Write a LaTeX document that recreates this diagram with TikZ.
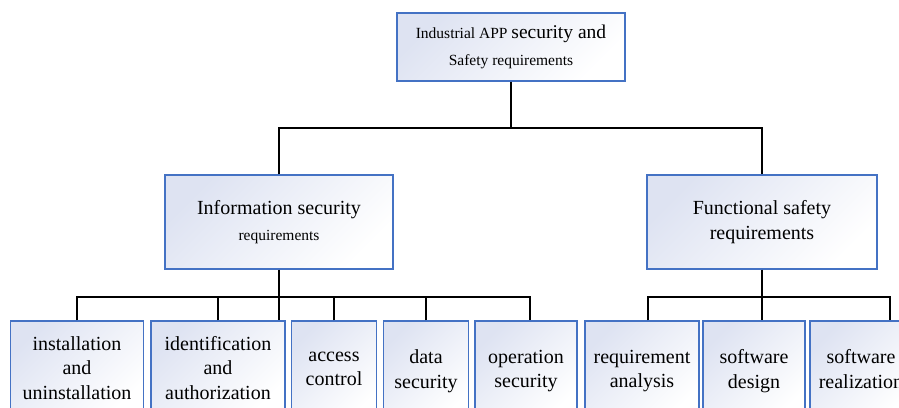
\documentclass[tikz,border=0pt]{standalone}
\usepackage{fontspec}
\setmainfont{Liberation Serif}
\usepackage{tikz}
\usetikzlibrary{positioning}
\definecolor{boxline}{RGB}{68,114,196}
\definecolor{boxtint}{RGB}{222,227,242}
\newcommand{\boxtxt}{\fontsize{20}{24.5}\selectfont}
\newcommand{\smalltxt}{\fontsize{15.5}{18}\selectfont}

\begin{document}
\begin{tikzpicture}[x=1pt, y=-1pt,
        box/.style={draw=boxline, line width=1.2pt, top color=boxtint, bottom color=white,
                    shading angle=45, align=center, font=\boxtxt, inner sep=1pt},
        leaf/.style={box, minimum height=98, text depth=2pt},
        link/.style={draw=black, line width=1.5pt}]
        \useasboundingbox (0,0) rectangle (899,407);
        \clip (0,0) rectangle (899,407);

        % Nivel superior
        \node[box, minimum width=228, minimum height=68] (top) at (511,47)
            {\smalltxt Industrial APP {\fontsize{19.5}{27}\selectfont security and}\\[3pt] \smalltxt Safety requirements};

        % Segundo nivel
        \node[box, minimum width=228, minimum height=94] (info) at (279,222)
            {Information security\\[2pt] \smalltxt requirements};
        \node[box, minimum width=230, minimum height=94] (func) at (762,222)
            {Functional safety\\ requirements};

        % Tercer nivel (informacion)
        \node[box, minimum width=133, minimum height=94] (inst) at (77,368) {installation\\ and\\ uninstallation};
        \node[box, minimum width=134, minimum height=94] (ident) at (218,368) {identification\\ and\\ authorization};
        \node[leaf, minimum width=85] (access) at (334,370) {access\\ control};
        \node[leaf, minimum width=85] (data) at (426,370) {data\\ security};
        \node[leaf, minimum width=102] (oper) at (526,370) {operation\\ security};

        % Tercer nivel (funcional)
        \node[leaf, minimum width=114] (reqan) at (642,370) {requirement\\ analysis};
        \node[leaf, minimum width=102] (design) at (754,370) {software\\ design};
        \node[leaf, minimum width=102] (realiz) at (861,370) {software\\ realization};

        % Barras horizontales
        \coordinate (barT) at (511,128);
        \coordinate (barL) at (279,297);
        \coordinate (barR) at (762,297);

        % Conexiones
        \draw[link] (top.south) -- (barT);
        \draw[link] (info.north) |- (barT) -| (func.north);
        \draw[link] (info.south) -- (info.south |- ident.north);
        \draw[link] (inst.north) |- (barL) -| ([xshift=4pt]oper.north);
        \foreach \n in {ident, access, data}
            \draw[link] (\n.north) -- (\n.north |- barL);
        \draw[link] (func.south) -- (func.south |- design.north);
        \draw[link] ([xshift=6pt]reqan.north) |- (barR) -| ([xshift=29pt]realiz.north);
\end{tikzpicture}
\end{document}
